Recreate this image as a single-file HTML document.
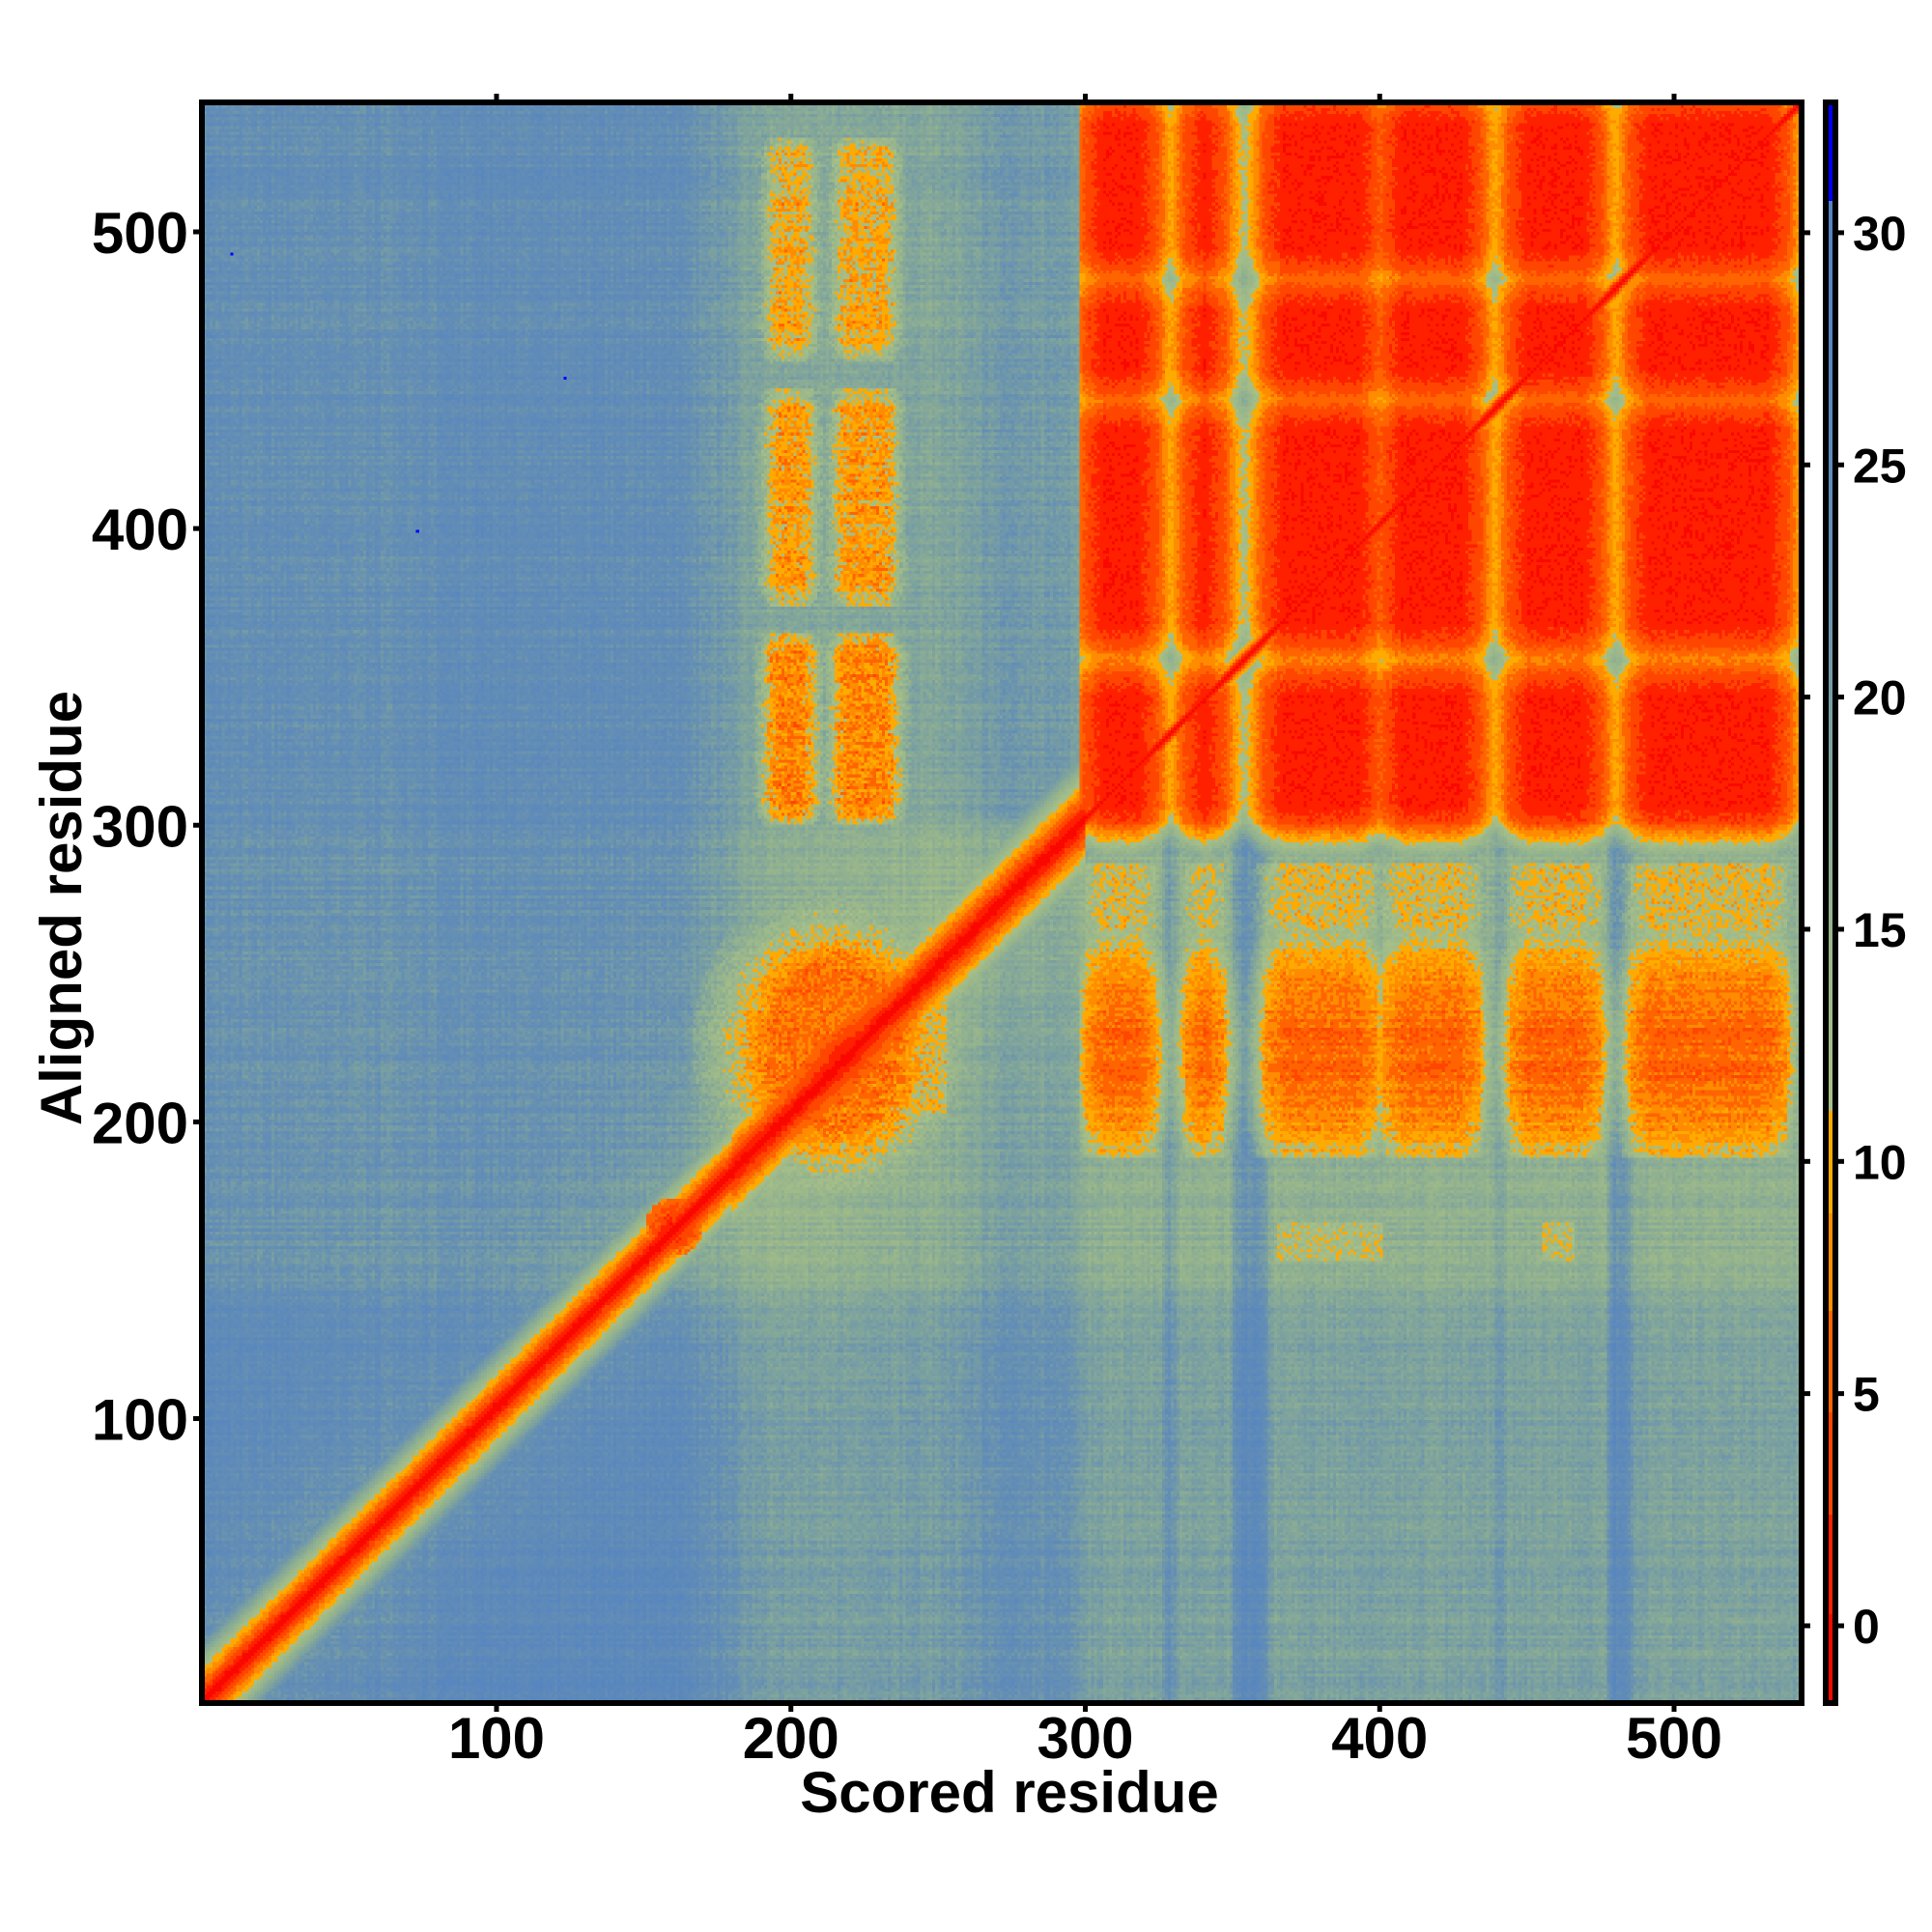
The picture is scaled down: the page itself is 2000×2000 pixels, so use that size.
<!DOCTYPE html>
<html><head><meta charset="utf-8">
<style>
html,body{margin:0;padding:0;background:#fff;}
#wrap{position:relative;width:2000px;height:2000px;overflow:hidden;background:#fff;}
#hm{position:absolute;left:211px;top:109px;width:1651px;height:1651px;image-rendering:pixelated;}
svg{position:absolute;left:0;top:0;}
</style></head><body>
<div id="wrap">
<canvas id="hm" width="541" height="541"></canvas>
<svg width="2000" height="2000" xmlns="http://www.w3.org/2000/svg" font-family="'Liberation Sans', Arial, sans-serif" font-weight="bold">
<g id="cbar"></g>
<rect x="209" y="106" width="1656" height="1657" fill="none" stroke="#000" stroke-width="6"/>
<rect x="1890" y="106" width="10" height="1657" fill="none" stroke="#000" stroke-width="6"/>
<g id="ticks" stroke="#000" stroke-width="5"></g>
<g id="labels" fill="#000"></g>
<text x="1045" y="1876" font-size="60" text-anchor="middle">Scored residue</text>
<text transform="translate(84,940) rotate(-90)" font-size="60" text-anchor="middle">Aligned residue</text>
</svg>
</div>
<script>
(function(){
function hash(a,b){var h=(a*374761393+b*668265263)|0;h=(h^(h>>>13))*1274126177|0;h=h^(h>>>16);return ((h>>>0)%10000)/5000-1;}
function interp(pts,x){if(x<=pts[0][0])return pts[0][1];for(var k=1;k<pts.length;k++){if(x<=pts[k][0]){var a=pts[k-1],b=pts[k];return a[1]+(b[1]-a[1])*(x-a[0])/(b[0]-a[0]);}}return pts[pts.length-1][1];}
var G=[[0,1.5],[60,2],[100,1],[160,1.5],[175,4],[190,7],[250,7],[270,4],[295,5],[300,8],[325,8],[328,4],[332,8],[348,8],[352,2],[360,2],[363,8],[437,8],[440,5],[443,8],[476,8],[479,2],[483,2],[486,8],[541,8]];
var H=[[0,1],[130,1],[145,4],[290,4],[300,3],[541,3]];
var SX=[[300,323],[334,346],[361,398],[401,433],[444,474],[485,537]];
var SY=[[298,347],[360,437],[446,478],[487,541]];
function segF(segs,x,inW,inS,base,outS){var best=1e9;for(var k=0;k<segs.length;k++){var s=segs[k];if(x>=s[0]&&x<=s[1]){var di=Math.min(x-s[0],s[1]-x);return Math.max(0,inW-di)*inS;}var d=x<s[0]?s[0]-x:x-s[1];if(d<best)best=d;}return base+best*outS;}
var CX=[[193,206],[216,234]];
function colorOf(v){
 if(v>30.7)return[0,0,255];
 if(v<0.27)return[250,8,0];
 if(v<2.4)return[255,32,0];
 if(v<4.6)return[255,70,0];
 if(v<6.8)return[255,100,0];
 if(v<8.9)return[255,140,0];
 if(v<11.1)return[255,170,0];
 var stops=[[11.1,[168,192,135]],[15,[150,180,140]],[19,[125,162,158]],[23,[100,142,180]],[27,[88,134,190]],[30.7,[84,130,192]]];
 for(var k=1;k<stops.length;k++){if(v<=stops[k][0]){var a=stops[k-1],b=stops[k],t=(v-a[0])/(b[0]-a[0]);return[Math.round(a[1][0]+(b[1][0]-a[1][0])*t),Math.round(a[1][1]+(b[1][1]-a[1][1])*t),Math.round(a[1][2]+(b[1][2]-a[1][2])*t)];}}
 return[84,130,192];
}
var N=541,cv=document.getElementById('hm'),ctx=cv.getContext('2d'),img=ctx.createImageData(N,N),D=img.data;
var gC=[],hR=[],cN=[],rN=[];
for(var i=1;i<=N;i++){gC[i]=interp(G,i);hR[i]=interp(H,i);cN[i]=hash(i,7);rN[i]=hash(3,i);}
for(var j=1;j<=N;j++){for(var i=1;i<=N;i++){
 var n1=hash(i,j),d=Math.abs(i-j);
 var v=28-gC[i]-hR[j]+1.4*n1+1.2*rN[j]+0.9*cN[i];
 if(i<300&&j<300)v-=5*Math.exp(-d/40);
 var k=1.15;if(i>=180&&i<300)k=0.95;else if(i>=300)k=3;
 var dv=-1.5+d*k+0.6*n1;if(dv<v)v=dv;
 if(i>=298&&j>=285){
  var fx=segF(SX,i,6,0.5,2.5,1.2),fy=j<298?(3+(298-j)*1.1):segF(SY,j,6,0.4,2,0.7);
  var va=0.8+fx+fy+1.0*n1;if(va<v)v=va;
 }
 if(i>=298&&j>=185&&j<=262){
  var fx2=segF(SX,i,6,0.4,2.5,1.6),t=(j-221)/38;
  var vb=5.5+fx2+t*t*6+1.6*n1+1.0*rN[j];if(vb<v)v=vb;
 }
 if(i>=298&&j>262&&j<285){var fx3=segF(SX,i,6,0.4,3,1.6);var vs=11+fx3+2.5*n1;if(vs<v)v=vs;}
 if(j>=150&&j<=162&&((i>=365&&i<=400)||(i>=455&&i<=465))){var vs2=12+2*n1;if(vs2<v)v=vs2;}
 if(i>=188&&i<=240){
  var fxc=segF(CX,i,3,0.6,1.5,1.5),rowAdd=1e9,ry=0;
  if(j>=298&&j<=362){rowAdd=0;ry=Math.min(j-298,362-j);}else if(j>=372&&j<=445){rowAdd=1.5;ry=Math.min(j-372,445-j);}else if(j>=455&&j<=530){rowAdd=2.5;ry=Math.min(j-455,530-j);}
  if(rowAdd<1e8){var vc=7.5+fxc+rowAdd+Math.max(0,6-ry)*0.6+2.6*n1+1.2*rN[j];if(vc<v)v=vc;}
 }
 var cx=(i-214)/30,cy=(j-222)/36,rr=Math.sqrt(cx*cx+cy*cy);
 if(rr<1.6){
  var vd=6.5+2.2*n1+Math.max(0,rr-0.75)*14+1.0*rN[j];if(vd<v)v=vd;
  if(rr<1.0){var vd2=-1+d*0.5+rr*3+0.5*n1;if(vd2<v)v=vd2;}
 }
 if(i>=240&&i<=252&&j>=200&&j<=240){var ve=11+2.5*n1;if(ve<v)v=ve;}
 var r=Math.sqrt((i-160)*(i-160)+(j-161)*(j-161));if(r<10){var vr=0+r*0.7+1.5*n1;if(vr<v)v=vr;}
 var c=colorOf(v),p=((N-j)*N+(i-1))*4;D[p]=c[0];D[p+1]=c[1];D[p+2]=c[2];D[p+3]=255;
}}
[[10,491],[73,397],[123,449]].forEach(function(q){var p=((N-q[1])*N+(q[0]-1))*4;D[p]=0;D[p+1]=0;D[p+2]=255;});
ctx.putImageData(img,0,0);
var NS='http://www.w3.org/2000/svg';
function el(t,a,par,txt){var e=document.createElementNS(NS,t);for(var k in a)e.setAttribute(k,a[k]);if(txt!==undefined)e.textContent=txt;document.getElementById(par).appendChild(e);}
function vy(v){return 1683-48.07*v;}
for(var y=106;y<1763;y++){var v=(1683-y)/48.07;var c=colorOf(v);el('rect',{x:1890,y:y,width:10,height:1.2,fill:'rgb('+c+')'},'cbar');}
for(var t=100;t<=500;t+=100){var x=514+(t-100)*304.75/100;
 el('line',{x1:x,y1:1763,x2:x,y2:1772},'ticks');el('line',{x1:x,y1:106,x2:x,y2:97},'ticks');
 el('text',{x:x,y:1820,'font-size':60,'text-anchor':'middle'},'labels',String(t));
 var yy=240+(500-t)*3.0713;
 el('line',{x1:209,y1:yy,x2:200,y2:yy},'ticks');
 el('text',{x:195,y:yy+22,'font-size':60,'text-anchor':'end'},'labels',String(t));
}
for(var v=0;v<=30;v+=5){var yy=vy(v);
 el('line',{x1:1865,y1:yy,x2:1874,y2:yy},'ticks');el('line',{x1:1900,y1:yy,x2:1909,y2:yy},'ticks');
 el('text',{x:1918,y:yy+18,'font-size':50},'labels',String(v));
}
})();
</script>
</body></html>
